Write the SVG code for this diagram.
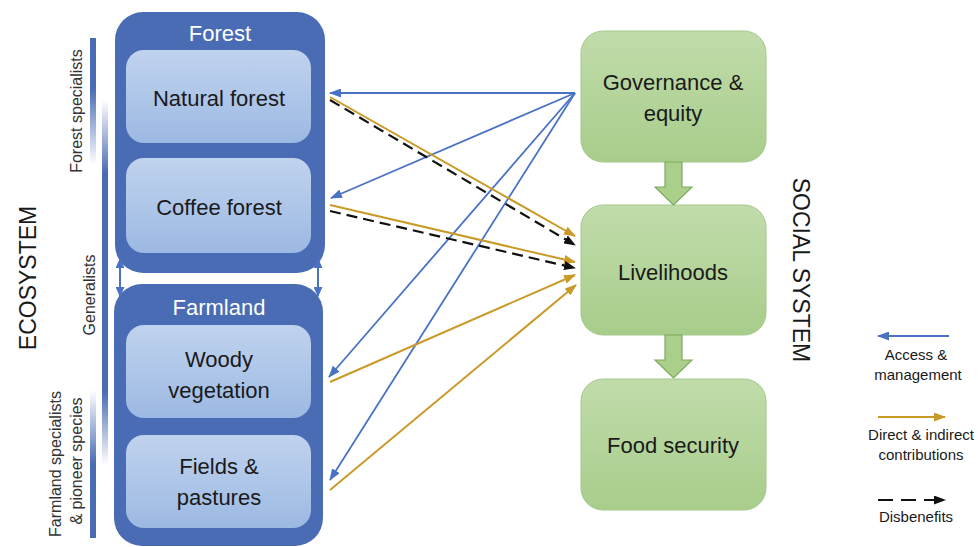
<svg xmlns="http://www.w3.org/2000/svg" width="978" height="547" viewBox="0 0 978 547">
<style>
  text { font-family: "Liberation Sans", Arial, sans-serif; }
  .outer { fill: #4a6cb4; }
  .inner { fill: url(#gInner); }
  .green { fill: url(#gGreen); stroke: #a3c889; stroke-width: 1; }
  .blockarrow { fill: #a9cf8a; stroke: #7eab5c; stroke-width: 1.2; }
  .title { fill: #ffffff; font-size: 22px; text-anchor: middle; }
  .lbl { fill: #1a1a1a; font-size: 22px; text-anchor: middle; }
  .side { fill: #333333; font-size: 16px; text-anchor: middle; }
  .big { fill: #1a1a1a; font-size: 23px; text-anchor: middle; }
  .leg { fill: #1a1a1a; font-size: 15px; text-anchor: middle; }
  .blue { stroke: #4a72c4; stroke-width: 1.8; fill: none; marker-end: url(#mBlue); }
  .gold { stroke: #c99a27; stroke-width: 2; fill: none; marker-end: url(#mGold); }
  .dash { stroke: #111111; stroke-width: 2.2; fill: none; stroke-dasharray: 11 6; marker-end: url(#mBlack); }
  .dbl { stroke: #4a72c4; stroke-width: 2; fill: none; marker-start: url(#mSmallS); marker-end: url(#mSmall); }
</style>
<defs>
  <linearGradient id="gInner" x1="0" y1="0" x2="0" y2="1">
    <stop offset="0" stop-color="#c0d3ee"/>
    <stop offset="1" stop-color="#9cb9e3"/>
  </linearGradient>
  <linearGradient id="gGreen" x1="0" y1="0" x2="0" y2="1">
    <stop offset="0" stop-color="#c1dcab"/>
    <stop offset="1" stop-color="#a8cd8b"/>
  </linearGradient>
  <linearGradient id="gBar1" gradientUnits="userSpaceOnUse" x1="0" y1="38" x2="0" y2="165">
    <stop offset="0" stop-color="#4a6cb4"/>
    <stop offset="0.4" stop-color="#4a6cb4"/>
    <stop offset="1" stop-color="#4a6cb4" stop-opacity="0"/>
  </linearGradient>
  <linearGradient id="gBar2" gradientUnits="userSpaceOnUse" x1="0" y1="100" x2="0" y2="465">
    <stop offset="0" stop-color="#4a6cb4" stop-opacity="0"/>
    <stop offset="0.2" stop-color="#4a6cb4"/>
    <stop offset="0.8" stop-color="#4a6cb4"/>
    <stop offset="1" stop-color="#4a6cb4" stop-opacity="0"/>
  </linearGradient>
  <linearGradient id="gBar3" gradientUnits="userSpaceOnUse" x1="0" y1="390" x2="0" y2="538">
    <stop offset="0" stop-color="#4a6cb4" stop-opacity="0"/>
    <stop offset="0.5" stop-color="#4a6cb4"/>
    <stop offset="1" stop-color="#4a6cb4"/>
  </linearGradient>
  <marker id="mBlue" viewBox="0 0 12 9" refX="11" refY="4.5" markerWidth="12" markerHeight="9" orient="auto" markerUnits="userSpaceOnUse">
    <path d="M0,0 L12,4.5 L0,9 z" fill="#4a72c4"/>
  </marker>
  <marker id="mGold" viewBox="0 0 12 9" refX="11" refY="4.5" markerWidth="12" markerHeight="9" orient="auto" markerUnits="userSpaceOnUse">
    <path d="M0,0 L12,4.5 L0,9 z" fill="#c99a27"/>
  </marker>
  <marker id="mBlack" viewBox="0 0 12 9" refX="11" refY="4.5" markerWidth="12" markerHeight="9" orient="auto" markerUnits="userSpaceOnUse">
    <path d="M0,0 L12,4.5 L0,9 z" fill="#111111"/>
  </marker>
  <marker id="mSmall" viewBox="0 0 10 9" refX="9" refY="4.5" markerWidth="10" markerHeight="9" orient="auto" markerUnits="userSpaceOnUse">
    <path d="M0,0 L10,4.5 L0,9 z" fill="#4a72c4"/>
  </marker>
  <marker id="mSmallS" viewBox="0 0 10 9" refX="9" refY="4.5" markerWidth="10" markerHeight="9" orient="auto-start-reverse" markerUnits="userSpaceOnUse">
    <path d="M0,0 L10,4.5 L0,9 z" fill="#4a72c4"/>
  </marker>
</defs>

<rect width="978" height="547" fill="#ffffff"/>

<!-- side labels and gradient bars -->
<g id="ecosystem-label">
  <text class="big" transform="translate(36,278) rotate(-90)">ECOSYSTEM</text>
</g>
<g id="forest-specialists">
  <rect x="90" y="38" width="6" height="127" fill="url(#gBar1)"/>
  <text class="side" transform="translate(82,111) rotate(-90)">Forest specialists</text>
</g>
<g id="generalists">
  <rect x="102" y="100" width="6" height="365" fill="url(#gBar2)"/>
  <text class="side" transform="translate(95,295) rotate(-90)">Generalists</text>
</g>
<g id="farmland-specialists">
  <rect x="90" y="390" width="6" height="148" fill="url(#gBar3)"/>
  <text class="side" transform="translate(61,464) rotate(-90)">Farmland specialists</text>
  <text class="side" transform="translate(82,461) rotate(-90)">&amp; pioneer species</text>
</g>

<!-- Forest -->
<g id="forest">
  <rect class="outer" x="115" y="12" width="210" height="261" rx="28"/>
  <text class="title" x="220" y="41">Forest</text>
</g>
<g id="natural-forest">
  <rect class="inner" x="126" y="50" width="185" height="93" rx="18"/>
  <text class="lbl" x="219" y="106">Natural forest</text>
</g>
<g id="coffee-forest">
  <rect class="inner" x="126" y="158" width="185" height="95" rx="18"/>
  <text class="lbl" x="219" y="215">Coffee forest</text>
</g>

<!-- Farmland -->
<g id="farmland">
  <rect class="outer" x="114" y="284" width="209" height="262" rx="28"/>
  <text class="title" x="219" y="315">Farmland</text>
</g>
<g id="woody-vegetation">
  <rect class="inner" x="126" y="325" width="185" height="93" rx="18"/>
  <text class="lbl" x="219" y="367">Woody</text>
  <text class="lbl" x="219" y="398">vegetation</text>
</g>
<g id="fields-pastures">
  <rect class="inner" x="126" y="435" width="185" height="93" rx="18"/>
  <text class="lbl" x="219" y="474">Fields &amp;</text>
  <text class="lbl" x="219" y="505">pastures</text>
</g>

<!-- Social system -->
<g id="governance">
  <rect class="green" x="581" y="31" width="185" height="131" rx="22"/>
  <text class="lbl" x="673" y="90">Governance &amp;</text>
  <text class="lbl" x="673" y="121">equity</text>
</g>
<g id="livelihoods">
  <rect class="green" x="581" y="205" width="185" height="130" rx="22"/>
  <text class="lbl" x="673" y="280">Livelihoods</text>
</g>
<g id="food-security">
  <rect class="green" x="581" y="379" width="185" height="131" rx="22"/>
  <text class="lbl" x="673" y="453">Food security</text>
</g>
<g id="social-system-label">
  <text class="big" transform="translate(793,270) rotate(90)">SOCIAL SYSTEM</text>
</g>

<!-- connectors -->
<g id="connectors">
  <path class="blockarrow" d="M665,162 L682,162 L682,187 L692,187 L673.5,205 L655,187 L665,187 Z"/>
  <path class="blockarrow" d="M665,335 L682,335 L682,360 L692,360 L673.5,378 L655,360 L665,360 Z"/>

  <line class="dbl" x1="120" y1="259" x2="120" y2="296"/>
  <line class="dbl" x1="318" y1="259" x2="318" y2="296"/>

  <line class="blue" x1="575" y1="93" x2="330" y2="93"/>
  <line class="blue" x1="575" y1="93" x2="331" y2="198"/>
  <line class="blue" x1="575" y1="93" x2="329" y2="377"/>
  <line class="blue" x1="575" y1="93" x2="330" y2="480"/>

  <line class="gold" x1="330" y1="97" x2="575" y2="236"/>
  <line class="gold" x1="330" y1="205" x2="575" y2="262"/>
  <line class="gold" x1="330" y1="382" x2="575" y2="275"/>
  <line class="gold" x1="330" y1="490" x2="576" y2="285"/>

  <line class="dash" x1="330" y1="100" x2="575" y2="245"/>
  <line class="dash" x1="330" y1="211" x2="575" y2="268"/>
</g>

<!-- legend -->
<g id="legend-access">
  <line class="blue" x1="949" y1="336" x2="878" y2="336"/>
  <text class="leg" x="916" y="360">Access &amp;</text>
  <text class="leg" x="918" y="380">management</text>
</g>
<g id="legend-contrib">
  <line class="gold" x1="878" y1="417" x2="945" y2="417"/>
  <text class="leg" x="921" y="440">Direct &amp; indirect</text>
  <text class="leg" x="921" y="460">contributions</text>
</g>
<g id="legend-disbenefits">
  <line class="dash" x1="878" y1="500" x2="945" y2="500" style="stroke-dasharray:15 8"/>
  <text class="leg" x="916" y="522">Disbenefits</text>
</g>
</svg>
